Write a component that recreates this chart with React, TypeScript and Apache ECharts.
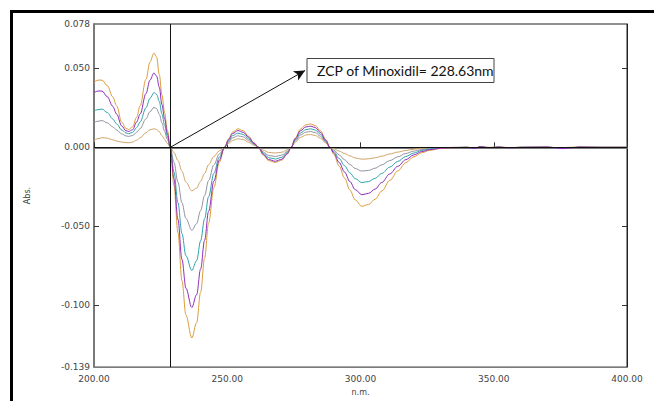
import React, { useEffect, useRef } from "react";
import * as echarts from "echarts";

const wavelengths = [
  200, 201.5, 203, 205, 207, 208.5, 210.4, 212, 213, 214.5, 216, 217.3, 219.5, 221, 222.5, 223.5, 224.5, 225.5, 226.5, 227.5, 228.63,
  230, 231.5, 233, 234.5, 236.7, 238.5, 240, 241.5, 243, 245, 247, 249,
  250.5, 252, 254, 256, 258, 260, 261.7,
  263.5, 265.5, 268, 270.5, 272.5, 274,
  275.5, 277.5, 279.5, 281.3, 283, 285, 287, 288.5,
  290, 292, 294, 296, 298, 300.5, 303, 305.5, 308, 311, 314, 317, 320, 323, 326, 330, 335,
  340, 343, 345, 348, 352, 356, 360, 370, 376, 378, 382, 390, 400,
];

const orangeAbs = [
  0.041, 0.0425, 0.0425, 0.039, 0.032, 0.0263, 0.0159, 0.012, 0.0113, 0.013, 0.019, 0.0263, 0.043, 0.054, 0.0596, 0.057, 0.046, 0.033, 0.022, 0.011, 0,
  -0.024, -0.054, -0.0844, -0.106, -0.1206, -0.111, -0.0917, -0.07, -0.048, -0.0253, -0.0096, 0,
  0.0053, 0.0096, 0.0117, 0.0105, 0.007, 0.0029, 0,
  -0.0048, -0.0084, -0.0095, -0.0081, -0.0043, 0,
  0.0059, 0.0115, 0.0142, 0.0148, 0.0138, 0.0104, 0.0049, 0,
  -0.0045, -0.0119, -0.0194, -0.0269, -0.0332, -0.0373, -0.0362, -0.0328, -0.0276, -0.0209, -0.0149, -0.0097, -0.006, -0.0034, -0.0019, -0.0007, -0.0002,
  0, -0.0004, 0.0002, -0.0002, 0.0001, -0.0002, 0, 0.0001, -0.0004, -0.0002, 0.0001, 0, 0,
];

const purpleAbs = [
  0.0346, 0.0356, 0.0356, 0.032, 0.026, 0.021, 0.0135, 0.0105, 0.01, 0.0112, 0.016, 0.021, 0.034, 0.0425, 0.047, 0.045, 0.038, 0.027, 0.018, 0.009, 0,
  -0.02, -0.0456, -0.0709, -0.0891, -0.1013, -0.0932, -0.077, -0.0588, -0.0405, -0.0213, -0.0081, 0,
  0.0048, 0.0087, 0.0106, 0.0095, 0.0064, 0.0027, 0,
  -0.0044, -0.0077, -0.0088, -0.0075, -0.004, 0,
  0.0054, 0.0105, 0.0129, 0.0134, 0.0125, 0.0094, 0.0044, 0,
  -0.0036, -0.0096, -0.0156, -0.0216, -0.0267, -0.03, -0.0291, -0.0264, -0.0222, -0.0168, -0.012, -0.0078, -0.0048, -0.0027, -0.0015, -0.0006, -0.0002,
  0, -0.0008, 0.0005, -0.0003, 0.0002, -0.0004, 0, 0.0002, -0.0008, -0.0005, 0.0002, 0, 0,
];

const tealAbs = [
  0.0231, 0.0238, 0.0242, 0.022, 0.018, 0.0148, 0.011, 0.0091, 0.0086, 0.0095, 0.0125, 0.016, 0.025, 0.031, 0.0346, 0.0335, 0.029, 0.021, 0.014, 0.007, 0,
  -0.0156, -0.035, -0.0545, -0.0686, -0.0779, -0.0717, -0.0592, -0.0452, -0.0312, -0.0164, -0.0062, 0,
  0.0041, 0.0074, 0.009, 0.0081, 0.0054, 0.0023, 0,
  -0.0037, -0.0065, -0.0074, -0.0063, -0.0033, 0,
  0.0047, 0.0091, 0.0112, 0.0117, 0.0109, 0.0082, 0.0039, 0,
  -0.0027, -0.0071, -0.0116, -0.0161, -0.0198, -0.0223, -0.0216, -0.0196, -0.0165, -0.0125, -0.0089, -0.0058, -0.0036, -0.002, -0.0011, -0.0004, -0.0001,
  0, -0.0006, 0.0004, -0.0002, 0.0001, -0.0003, 0, 0.0001, -0.0006, -0.0003, 0.0001, 0, 0,
];

const grayAbs = [
  0.0159, 0.0165, 0.0169, 0.0155, 0.013, 0.011, 0.0085, 0.0072, 0.0069, 0.0075, 0.0095, 0.0118, 0.018, 0.0225, 0.0252, 0.0245, 0.021, 0.0155, 0.01, 0.005, 0,
  -0.0095, -0.022, -0.035, -0.045, -0.0525, -0.0483, -0.04, -0.0305, -0.021, -0.011, -0.0042, 0,
  0.0033, 0.006, 0.0073, 0.0066, 0.0044, 0.0018, 0,
  -0.0029, -0.0051, -0.0058, -0.0049, -0.0026, 0,
  0.004, 0.0078, 0.0096, 0.01, 0.0093, 0.007, 0.0033, 0,
  -0.0018, -0.0048, -0.0078, -0.0108, -0.0134, -0.015, -0.0146, -0.0132, -0.0111, -0.0084, -0.006, -0.0039, -0.0024, -0.0014, -0.0008, -0.0003, -0.0001,
  0, -0.0003, 0.0002, -0.0001, 0, -0.0002, 0, 0, -0.0003, -0.0001, 0, 0, 0,
];

const tanAbs = [
  0.0044, 0.0055, 0.0061, 0.0058, 0.0048, 0.004, 0.0033, 0.003, 0.0029, 0.0033, 0.0045, 0.006, 0.0092, 0.0111, 0.0117, 0.0113, 0.0098, 0.0074, 0.005, 0.0025, 0,
  -0.0033, -0.0083, -0.0151, -0.022, -0.0275, -0.0258, -0.0215, -0.0165, -0.011, -0.0058, -0.0022, 0,
  0.0024, 0.0044, 0.0054, 0.0049, 0.0032, 0.0014, 0,
  -0.0018, -0.0032, -0.0036, -0.0031, -0.0016, 0,
  0.0032, 0.0063, 0.0078, 0.0081, 0.0075, 0.0057, 0.0027, 0,
  -0.0009, -0.0024, -0.0039, -0.0054, -0.0067, -0.0075, -0.0073, -0.0066, -0.0056, -0.0042, -0.003, -0.002, -0.0012, -0.0007, -0.0004, -0.0002, 0,
  0, -0.0002, 0.0001, 0, 0, -0.0001, 0, 0, -0.0002, 0, 0, 0, 0,
];

const yLabelValues = [0.078, 0.05, 0, -0.05, -0.1, -0.139];
const yTickValues = [0.05, -0.05, -0.1];
const zcpWavelength = 228.63;
const arrowEnd = [279.2, 0.0486];
const annotationText = "ZCP of Minoxidil= 228.63nm";

const curves = [
  { name: "c1", values: tanAbs, color: "#CFA466" },
  { name: "c2", values: grayAbs, color: "#9392A0" },
  { name: "c3", values: tealAbs, color: "#2FA2AA" },
  { name: "c4", values: orangeAbs, color: "#DB9C3C" },
  { name: "c5", values: purpleAbs, color: "#8E2DB8" },
];

const labelFont = { fontFamily: "DejaVu Sans", fontSize: 9, color: "#444" };

export default function App() {
  const ref = useRef<HTMLDivElement>(null);
  useEffect(() => {
    if (!ref.current) return;
    const chart = echarts.init(ref.current, undefined, { renderer: "svg" });
    const yMin = -0.139;
    const yMax = 0.078;
    const series: any[] = curves.map((c) => ({
      name: c.name,
      type: "line",
      data: wavelengths.map((w, i) => [w, c.values[i]]),
      showSymbol: false,
      smooth: 0.35,
      smoothMonotone: "x",
      lineStyle: { color: c.color, width: 1 },
      silent: true,
      z: 2,
    }));
    series.push({
      type: "line",
      data: [],
      silent: true,
      z: 5,
      markLine: {
        silent: true,
        animation: false,
        symbol: ["none", "none"],
        label: { show: false },
        lineStyle: { color: "#111", width: 1, type: "solid" },
        data: [
          { xAxis: zcpWavelength },
          { yAxis: 0 },
          [
            { coord: [zcpWavelength, 0], symbol: "none" },
            { coord: arrowEnd, symbol: "arrow", symbolSize: [8, 11] },
          ],
        ],
      },
    });
    chart.setOption({
      animation: false,
      backgroundColor: "#fff",
      grid: {
        left: 94,
        right: 27,
        top: 24,
        bottom: 30,
        show: true,
        borderColor: "#222",
        borderWidth: 1,
        backgroundColor: "transparent",
      },
      xAxis: {
        type: "value",
        min: 200,
        max: 400,
        interval: 50,
        name: "n.m.",
        nameLocation: "middle",
        nameGap: 19,
        nameTextStyle: { fontFamily: "DejaVu Sans", fontSize: 8, color: "#444" },
        axisLine: { show: true, lineStyle: { color: "#7a7a7a", width: 2 } },
        axisTick: { show: true, inside: true, length: 5, lineStyle: { color: "#333" } },
        axisLabel: { ...labelFont, margin: 7, formatter: (v: number) => v.toFixed(2) },
        splitLine: { show: false },
      },
      yAxis: [
        {
          type: "value",
          min: yMin,
          max: yMax,
          name: "Abs.",
          nameLocation: "middle",
          nameGap: 63,
          nameTextStyle: { fontFamily: "DejaVu Sans", fontSize: 8, color: "#444" },
          axisLine: { show: true, lineStyle: { color: "#7a7a7a", width: 2 } },
          axisTick: { show: true, inside: true, length: 5, customValues: yTickValues, lineStyle: { color: "#333" } },
          axisLabel: { ...labelFont, margin: 4, customValues: yLabelValues, formatter: (v: number) => v.toFixed(3) },
          splitLine: { show: false },
        },
        {
          type: "value",
          min: yMin,
          max: yMax,
          position: "right",
          axisLine: { show: true, lineStyle: { color: "#222", width: 1 } },
          axisTick: { show: true, inside: true, length: 5, customValues: yTickValues, lineStyle: { color: "#333" } },
          axisLabel: { show: false },
          splitLine: { show: false },
        },
      ],
      series,
      graphic: [
        {
          type: "rect",
          shape: { x: 11.5, y: 11.5, width: 700, height: 500 },
          style: { fill: "none", stroke: "#000", lineWidth: 3 },
          silent: true,
          z: 100,
        },
        {
          type: "rect",
          shape: { x: 307, y: 58.5, width: 187, height: 24 },
          style: { fill: "#fff", stroke: "#444", lineWidth: 1 },
          silent: true,
          z: 100,
        },
        {
          type: "text",
          x: 317,
          y: 70.5,
          style: {
            text: annotationText,
            fontFamily: "Lato",
            fontSize: 14,
            fill: "#111",
            verticalAlign: "middle",
            align: "left",
          },
          silent: true,
          z: 101,
        },
      ],
    });
    return () => chart.dispose();
  }, []);
  return (
    <div
      ref={ref}
      style={{ position: "fixed", left: 0, top: 0, width: 654, height: 401, background: "#fff" }}
    />
  );
}
